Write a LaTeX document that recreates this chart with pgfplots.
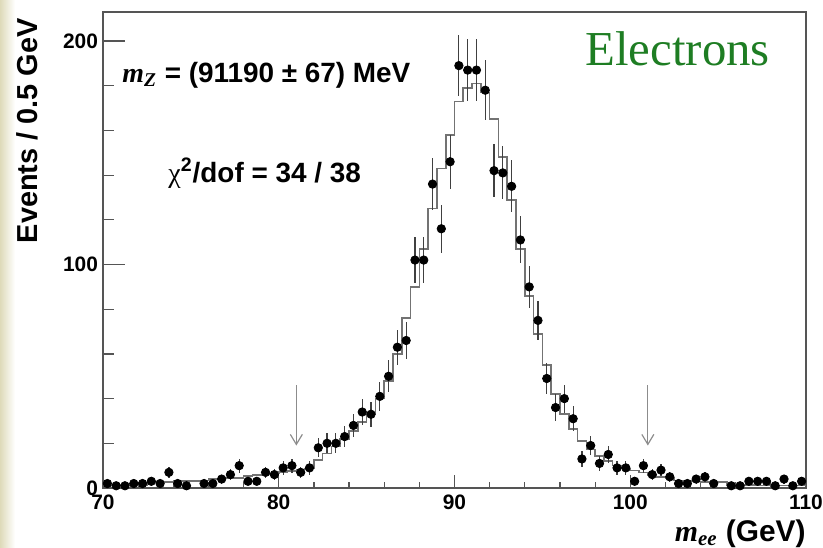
\documentclass[border=0pt]{standalone}
\usepackage{fontspec}
\setmainfont{Liberation Sans}
\newfontfamily\tms{Liberation Serif}
\usepackage{pgfplots}
\pgfplotsset{compat=1.18}
\usetikzlibrary{arrows.meta}

\definecolor{modelgray}{RGB}{115,115,115}
\definecolor{arrowgray}{RGB}{140,140,140}
\definecolor{framegray}{RGB}{85,85,85}
\definecolor{elgreen}{RGB}{30,125,35}
\definecolor{slidebeige}{RGB}{222,218,185}

\newcommand{\mvar}[1]{{\tms\bfseries\itshape #1}}

% data: bin centre, events, sqrt(N)  (empty bins are not drawn)
\pgfplotstableread{
x y e
70.25 2 1.4
70.75 1 1
71.25 1 1
71.75 2 1.4
72.25 2 1.4
72.75 3 1.7
73.25 2 1.4
73.75 7 2.6
74.25 2 1.4
74.75 1 1
75.75 2 1.4
76.25 2 1.4
76.75 4 2
77.25 6 2.4
77.75 10 3.2
78.25 3 1.7
78.75 3 1.7
79.25 7 2.6
79.75 6 2.4
80.25 9 3
80.75 10 3.2
81.25 7 2.6
81.75 9 3
82.25 18 4.2
82.75 20 4.5
83.25 20 4.5
83.75 23 4.8
84.25 28 5.3
84.75 34 5.8
85.25 33 5.7
85.75 41 6.4
86.25 50 7.1
86.75 63 7.9
87.25 66 8.1
87.75 102 10.1
88.25 102 10.1
88.75 136 11.7
89.25 116 10.8
89.75 146 12.1
90.25 189 13.7
90.75 187 13.7
91.25 187 13.7
91.75 178 13.3
92.25 142 11.9
92.75 141 11.9
93.25 135 11.6
93.75 111 10.5
94.25 90 9.5
94.75 75 8.7
95.25 49 7
95.75 36 6
96.25 40 6.3
96.75 31 5.6
97.25 13 3.6
97.75 19 4.4
98.25 11 3.3
98.75 15 3.9
99.25 9 3
99.75 9 3
100.25 3 1.7
100.75 10 3.2
101.25 6 2.4
101.75 8 2.8
102.25 5 2.2
102.75 2 1.4
103.25 2 1.4
103.75 4 2
104.25 5 2.2
104.75 2 1.4
105.75 1 1
106.25 1 1
106.75 3 1.7
107.25 3 1.7
107.75 3 1.7
108.25 1 1
108.75 4 2
109.25 1 1
109.75 3 1.7
}\datatable

% fit histogram: bin low edge, expected events
\pgfplotstableread{
x y
70.0 1.2
70.5 1.2
71.0 1.3
71.5 1.3
72.0 1.4
72.5 2.4
73.0 2.5
73.5 2.6
74.0 3.0
74.5 3.1
75.0 3.2
75.5 3.3
76.0 4.0
76.5 4.2
77.0 4.4
77.5 4.6
78.0 5.4
78.5 5.7
79.0 6.0
79.5 6.4
80.0 7.2
80.5 7.6
81.0 8.2
81.5 8.8
82.0 12.5
82.5 15.5
83.0 18.5
83.5 22
84.0 25.5
84.5 29.5
85.0 33
85.5 40
86.0 48
86.5 60
87.0 76
87.5 90
88.0 107
88.5 125
89.0 143
89.5 158
90.0 173
90.5 179
91.0 181
91.5 177
92.0 165
92.5 148
93.0 129
93.5 107
94.0 86
94.5 69
95.0 55
95.5 42
96.0 33
96.5 26.5
97.0 21
97.5 17.3
98.0 14.3
98.5 12
99.0 10
99.5 8.8
100.0 7.9
100.5 6.9
101.0 5.8
101.5 5.0
102.0 4.4
102.5 3.3
103.0 3.1
103.5 2.9
104.0 2.8
104.5 2.7
105.0 2.6
105.5 1.4
106.0 1.3
106.5 1.3
107.0 1.2
107.5 1.2
108.0 1.2
108.5 1.1
109.0 1.1
109.5 1.1
110.0 1.1
}\modeltable

\begin{document}
\begin{tikzpicture}
\useasboundingbox (-51.5bp,-30bp) rectangle (360bp,244bp);
\shade[left color=slidebeige, right color=white] (-51.5bp,-30bp) rectangle (-44bp,244bp);
\begin{axis}[
  at={(0,0)}, anchor=south west,
  scale only axis,
  width=351.5bp, height=238bp,
  xmin=70, xmax=110, ymin=0, ymax=213,
  xtick={70,80,...,110}, ytick={0,100,200},
  minor x tick num=4, minor y tick num=4,
  tick align=inside, xtick pos=lower, ytick pos=left,
  xtick style={/pgfplots/major tick length=6.5bp,/pgfplots/minor tick length=3.2bp},
  ytick style={/pgfplots/major tick length=11bp,/pgfplots/minor tick length=5.5bp},
  tick style={framegray, line width=0.6bp},
  axis line style={framegray, line width=0.8bp},
  ticklabel style={font=\fontsize{10.5}{11}\selectfont\bfseries},
  yticklabel style={xshift=1bp},
  /pgf/number format/assume math mode=true,
  clip=false,
]
\addplot[const plot, modelgray, line width=0.8bp] table[x=x, y=y] {\modeltable};
\addplot[only marks, mark=*, mark size=2.1bp, black,
  error bars/.cd, y dir=both, y explicit, error mark=none,
  error bar style={black!75, line width=0.6bp}]
  table[x=x, y=y, y error=e] {\datatable};

\draw[arrowgray, line width=0.6bp, -{Straight Barb[length=5bp,width=6bp]}] (axis cs:81,46) -- (axis cs:81,19);
\draw[arrowgray, line width=0.6bp, -{Straight Barb[length=5bp,width=6bp]}] (axis cs:101,46) -- (axis cs:101,19);

\node[anchor=base west, inner sep=0pt, font=\fontsize{14}{15}\selectfont\bfseries] at (axis cs:71.08,181.6)
  {\mvar{m}\textsubscript{{\tms\itshape Z}} = (91190 ± 67) MeV};
\node[anchor=base west, inner sep=0pt, font=\fontsize{14}{15}\selectfont\bfseries] at (axis cs:73.7,136.8)
  {{\tms\mdseries χ}\textsuperscript{2}/dof = 34 / 38};
\node[anchor=base west, inner sep=0pt, text=elgreen, font=\tms\fontsize{24.5}{25}\selectfont] at (axis cs:97.43,189.2)
  {Electrons};
\node[rotate=90, anchor=base east, inner sep=0pt, font=\fontsize{14.5}{15}\selectfont\bfseries] at (axis cs:66.3,210.3)
  {Events / 0.5 GeV};
\node[anchor=base east, inner sep=0pt, font=\fontsize{15}{16}\selectfont\bfseries] at (axis cs:110,-23.8)
  {\mvar{m}\textsubscript{\mvar{ee}}\ (GeV)};
\end{axis}
\end{tikzpicture}
\end{document}
